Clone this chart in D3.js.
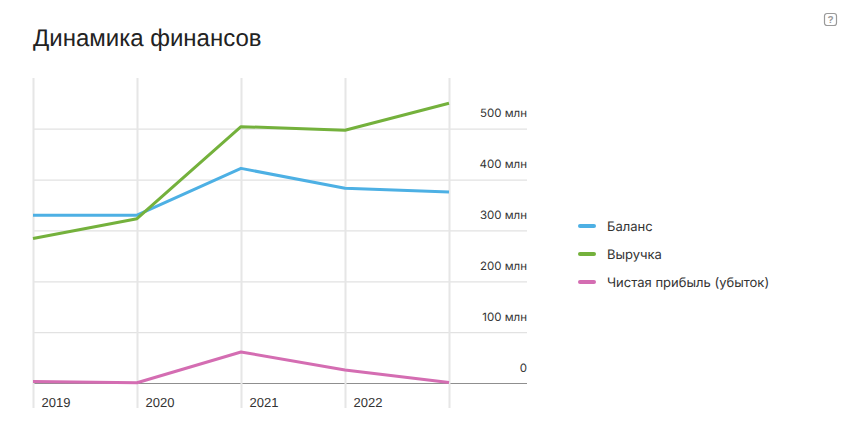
<!DOCTYPE html>
<html lang="ru">
<head>
<meta charset="utf-8">
<script src="https://cdn.jsdelivr.net/npm/d3@7/dist/d3.min.js"></script>
<style>
html,body{margin:0;padding:0;background:#fff;}
svg{display:block;}
text{text-rendering:geometricPrecision;}
</style>
</head>
<body>
<svg id="chart" width="847" height="448"></svg>
<script>
const titleText = "Динамика финансов";
const years = [2019, 2020, 2021, 2022, 2023];
const yearLabels = ["2019", "2020", "2021", "2022", ""];
const seriesNames = ["Баланс", "Выручка", "Чистая прибыль (убыток)"];
const seriesColors = ["#4db0e4", "#74b13c", "#d46db2"];
const balance = [330, 330, 422, 383, 375.5];
const revenue = [284, 323, 504, 497, 550];
const profit = [3, 0.5, 61, 25.5, 1];
const yTicks = [0, 100, 200, 300, 400, 500];

const svg = d3.select("#chart");
const x = d3.scalePoint().domain(years).range([33, 449]);
const y = d3.scaleLinear().domain([0, 500]).range([383, 128.7]);

svg.append("text").attr("x", 33).attr("y", 46)
  .attr("font-family", "'Liberation Sans', Arial, sans-serif")
  .attr("font-size", 24).attr("fill", "#222").text(titleText);

// help icon
const help = svg.append("g").attr("transform", "translate(824,13)");
help.append("rect").attr("x", 0.5).attr("y", 0.5).attr("width", 12).attr("height", 12).attr("rx", 2.5)
  .attr("fill", "none").attr("stroke", "#9a9a9a").attr("stroke-width", 1.2);
help.append("text").attr("x", 6.5).attr("y", 10).attr("text-anchor", "middle")
  .attr("font-family", "'Liberation Sans', Arial, sans-serif").attr("font-weight", "bold")
  .attr("font-size", 10).attr("fill", "#9a9a9a").text("?");

// horizontal grid + labels
const yAxis = svg.append("g").call(
  d3.axisRight(y).tickValues(yTicks).tickSize(0)
    .tickFormat(d => d === 0 ? "0" : d + " млн")
);
yAxis.select(".domain").remove();
yAxis.selectAll(".tick line")
  .attr("x1", 33).attr("x2", 527)
  .attr("stroke", d => d === 0 ? "#8f8f8f" : "#e2e2e2")
  .attr("stroke-width", d => d === 0 ? 1.2 : 1.2);
yAxis.selectAll(".tick text")
  .attr("x", 527).attr("y", -12).attr("dy", 0)
  .attr("text-anchor", "end")
  .attr("font-family", "Inter, 'Open Sans', sans-serif")
  .attr("font-size", 11.5).attr("fill", "#333");

// vertical grid + labels
const xAxis = svg.append("g").attr("transform", "translate(0,408)").call(
  d3.axisBottom(x).tickSize(0).tickFormat((d, i) => yearLabels[i])
);
xAxis.select(".domain").remove();
xAxis.selectAll(".tick line")
  .attr("y1", -330).attr("y2", 0)
  .attr("stroke", "#e6e6e6").attr("stroke-width", 2);
xAxis.selectAll(".tick text")
  .attr("x", 8).attr("y", -1).attr("dy", 0)
  .attr("text-anchor", "start")
  .attr("font-family", "'Liberation Sans', Arial, sans-serif")
  .attr("font-size", 13).attr("fill", "#333");

// lines
const line = d3.line().x((d, i) => x(years[i])).y(d => y(d));
[balance, revenue, profit].forEach((vals, i) => {
  svg.append("path").datum(vals).attr("d", line)
    .attr("fill", "none").attr("stroke", seriesColors[i])
    .attr("stroke-width", 3).attr("stroke-linejoin", "round");
});

// legend
const legendY = d3.scalePoint().domain(seriesNames).range([226, 282]);
const legend = svg.append("g").selectAll("g").data(seriesNames).join("g")
  .attr("transform", d => `translate(0,${legendY(d)})`);
legend.append("line").attr("x1", 580).attr("x2", 594).attr("y1", 0).attr("y2", 0)
  .attr("stroke", (d, i) => seriesColors[i]).attr("stroke-width", 4).attr("stroke-linecap", "round");
legend.append("text").attr("x", 607).attr("y", 5)
  .attr("font-family", "Inter, 'Open Sans', sans-serif")
  .attr("font-size", 13).attr("fill", "#333").text(d => d);
</script>
</body>
</html>
